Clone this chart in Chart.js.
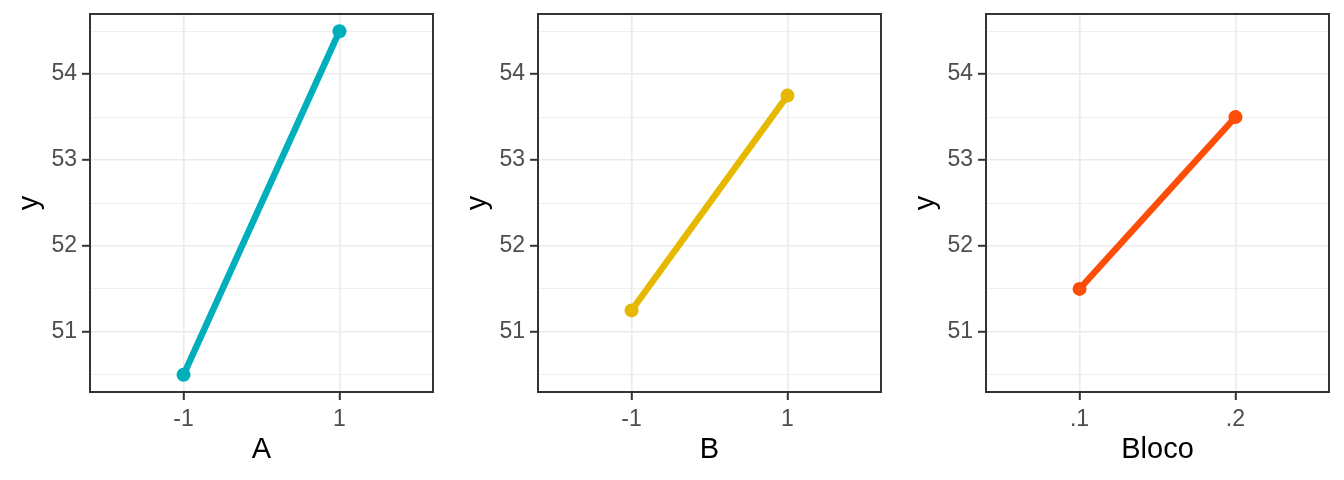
<!DOCTYPE html>
<html>
<head>
<meta charset="utf-8">
<script src="https://cdn.jsdelivr.net/npm/chart.js@4.4.1/dist/chart.umd.min.js"></script>
<style>
  html, body { margin: 0; padding: 0; background: #ffffff; }
  body { width: 1344px; height: 480px; position: relative; overflow: hidden; }
  .panel { position: absolute; top: 0; width: 448px; height: 480px; }
</style>
</head>
<body>
<div class="panel" style="left:0px"><canvas id="c1"></canvas></div>
<div class="panel" style="left:448px"><canvas id="c2"></canvas></div>
<div class="panel" style="left:896px"><canvas id="c3"></canvas></div>
<script>
// ---- data ----
const axisTitles = ['A', 'B', 'Bloco'];
const catsA = ['-1', '1'];
const catsB = ['-1', '1'];
const catsBloco = ['.1', '.2'];
const valuesA = [50.5, 54.5];
const valuesB = [51.25, 53.75];
const valuesBloco = [51.5, 53.5];
const seriesColors = ['#00AFBB', '#E7B800', '#FC4E07'];
const yTickValues = [50.5, 51, 51.5, 52, 52.5, 53, 53.5, 54, 54.5];
const yMin = 50.3, yMax = 54.7;

const FONT = "'Liberation Sans', Arial, sans-serif";

const framePlugin = {
  id: 'frame',
  afterDraw(chart) {
    const a = chart.chartArea, ctx = chart.ctx;
    ctx.save();
    ctx.strokeStyle = '#333333';
    ctx.lineWidth = 2;
    ctx.strokeRect(a.left, a.top, a.right - a.left, a.bottom - a.top);
    ctx.restore();
  }
};

function isMajor(v) { return Math.abs(v - Math.round(v)) < 1e-6; }

function makeChart(id, cats, values, color, title) {
  const data = cats.map((c, i) => ({ x: i + 1, y: values[i] }));
  new Chart(document.getElementById(id), {
    type: 'line',
    data: {
      datasets: [{
        data: data,
        borderColor: color,
        backgroundColor: color,
        borderWidth: 6.5,
        pointRadius: 7,
        pointHoverRadius: 7,
        pointBorderWidth: 0,
        tension: 0
      }]
    },
    options: {
      responsive: true,
      maintainAspectRatio: false,
      animation: false,
      events: [],
      layout: { padding: { left: 0, right: 15, top: 14, bottom: 0 } },
      plugins: { legend: { display: false }, tooltip: { enabled: false } },
      scales: {
        x: {
          type: 'linear',
          min: 0.4, max: 2.6,
          afterBuildTicks: (s) => { s.ticks = cats.map((c, i) => ({ value: i + 1 })); },
          afterFit: (s) => { s.height = 88; s.paddingLeft = 0; s.paddingRight = 0; },
          ticks: {
            callback: (v) => cats[Math.round(v) - 1],
            color: '#4D4D4D',
            font: { family: FONT, size: 23 },
            padding: 6,
            maxRotation: 0,
            autoSkip: false
          },
          grid: {
            color: '#EBEBEB',
            lineWidth: 1.6,
            tickLength: 8,
            tickColor: '#333333',
            tickWidth: 2
          },
          border: { display: false },
          title: {
            display: true,
            text: title,
            color: '#000000',
            font: { family: FONT, size: 29 },
            padding: { top: 0, bottom: 13 }
          }
        },
        y: {
          type: 'linear',
          min: yMin, max: yMax,
          afterBuildTicks: (s) => { s.ticks = yTickValues.map(v => ({ value: v })); },
          afterFit: (s) => { s.width = 90; s.paddingTop = 0; s.paddingBottom = 0; },
          ticks: {
            callback: (v) => isMajor(v) ? String(Math.round(v)) : '',
            color: '#4D4D4D',
            font: { family: FONT, size: 23 },
            padding: 5,
            autoSkip: false
          },
          grid: {
            color: '#EBEBEB',
            lineWidth: (ctx) => (ctx.tick && isMajor(ctx.tick.value)) ? 1.6 : 0.8,
            tickLength: 8,
            tickColor: (ctx) => (ctx.tick && isMajor(ctx.tick.value)) ? '#333333' : 'rgba(0,0,0,0)',
            tickWidth: 2
          },
          border: { display: false },
          title: {
            display: true,
            text: 'y',
            color: '#000000',
            font: { family: FONT, size: 29 },
            padding: { top: 13, bottom: 0 }
          }
        }
      }
    },
    plugins: [framePlugin]
  });
}

makeChart('c1', catsA, valuesA, seriesColors[0], axisTitles[0]);
makeChart('c2', catsB, valuesB, seriesColors[1], axisTitles[1]);
makeChart('c3', catsBloco, valuesBloco, seriesColors[2], axisTitles[2]);
</script>
</body>
</html>
